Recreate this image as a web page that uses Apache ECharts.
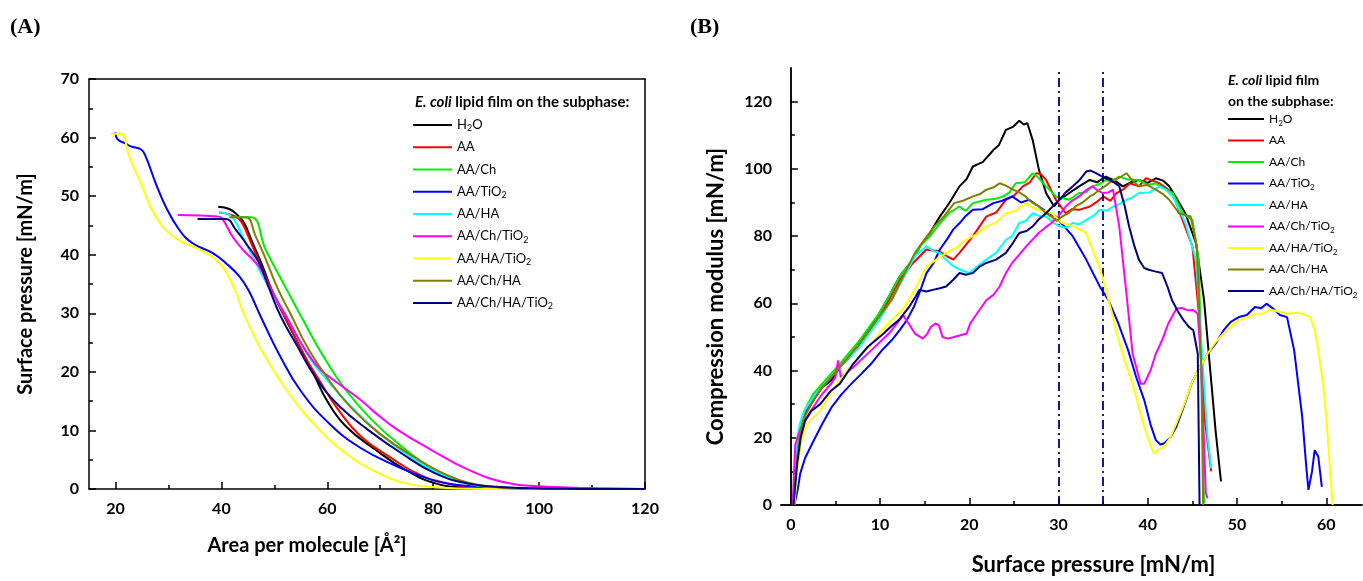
<!DOCTYPE html>
<html>
<head>
<meta charset="utf-8">
<script src="https://cdn.jsdelivr.net/npm/echarts@6/dist/echarts.min.js"></script>
<style>
html,body{margin:0;padding:0;background:#fff;}
#chart{width:1363px;height:581px;}
</style>
</head>
<body>
<div id="chart"></div>
<script>
// ---------- names & colours ----------
const seriesNames = ['H2O','AA','AA/Ch','AA/TiO2','AA/HA','AA/Ch/TiO2','AA/HA/TiO2','AA/Ch/HA','AA/Ch/HA/TiO2'];
const seriesColors = ['#000000','#ff0000','#00ee00','#0000ff','#00ffff','#ff00ff','#ffff00','#808000','#000080'];

// ---------- axis ticks ----------
const aXMajor = [20,40,60,80,100,120];
const aXMinor = [30,50,70,90,110];
const bXMajor = [0,10,20,30,40,50,60];
const bXMinor = [5,15,25,35,45,55];
const bYMajor = [0,20,40,60,80,100,120];
const bYMinor = [10,30,50,70,90,110];
const bVLines = [30,35];

// ---------- panel A: surface pressure vs area ----------
const aH2O = [[39.4,48.2],[41.5,47.8],[43.0,46.8],[44.3,45.4],[45.9,42.0],[47.8,38.0],[49.5,34.0],[51.6,30.0],[55.1,23.8],[57.5,19.5],[60.0,15.0],[63.5,10.7],[69.1,6.7],[74.7,3.3],[80.3,1.0],[86.6,0.2],[95,0.03],[120,0]];
const aAA = [[39.6,47.2],[42.7,46.5],[43.9,45.4],[45.9,41.4],[47.8,37.4],[49.5,34.0],[52.0,29.4],[55.8,22.6],[58.6,18.4],[62.1,13.5],[66.3,9.0],[71.9,5.4],[77.5,2.4],[83.1,0.9],[90,0.2],[100,0.02],[120,0]];
const aAACh = [[41.8,46.4],[45.6,46.4],[48.4,40.8],[52.2,34.3],[55.1,29.4],[59.3,22.6],[63.5,16.9],[68.4,11.8],[74,7.3],[80.3,3.3],[86.6,1.0],[93.6,0.2],[105,0.02],[120,0]];
const aAATiO2 = [[20.0,60.9],[20.4,59.7],[21.9,59.0],[22.9,58.5],[24.8,58.0],[25.7,56.8],[27.6,52.2],[29.5,48.2],[32.0,44.3],[34.5,42.0],[38.3,40.3],[40.8,38.6],[43.4,36.3],[45.2,33.8],[47.4,29.5],[50.9,23.0],[55.1,16.6],[60.7,10.9],[66.3,7.0],[72.6,4.1],[79.6,1.6],[86.6,0.5],[97,0.05],[120,0]];
const aAAHA = [[39.6,47.2],[40.8,47.1],[42.4,46.0],[44,43.1],[45.9,39.7],[47.8,36.3],[49.5,33.6],[52.3,29.4],[56.5,22.6],[60.7,17.8],[64.9,13.7],[69.1,10.1],[74.7,6.1],[80.3,3.0],[86.6,0.9],[93.6,0.2],[105,0.02],[120,0]];
const aAAChTiO2 = [[31.8,46.8],[39.6,46.5],[40.5,45.7],[42.1,43.1],[44.0,40.9],[45.9,39.2],[47.4,37.6],[49.0,34.6],[52.3,29.4],[55.8,23.8],[58.6,20.5],[62.1,18.0],[66.3,15.2],[69.1,13.0],[73.3,10.1],[79.6,6.7],[86.6,3.3],[93.6,1.1],[99.9,0.45],[107.6,0.2],[120,0]];
const aAAHATiO2 = [[19.2,60.6],[21.0,60.7],[22.6,56.8],[24.8,52.2],[27.6,46.5],[31.4,42.8],[35.8,40.9],[39.6,38.6],[42.4,34.3],[44.2,30.0],[47.4,24.0],[52.3,16.9],[57.9,10.7],[63.5,6.1],[69.1,3.0],[74.7,1.0],[80.3,0.3],[90,0.02],[120,0]];
const aAAChHA = [[41.5,46.4],[44.6,46.4],[46.5,43.1],[48.4,39.2],[50.6,34.3],[53,30],[56.5,23.8],[60.7,18.1],[64.9,13.5],[69.8,9.5],[76.1,5.6],[83.1,2.2],[90,0.5],[97,0.05],[120,0]];
const aAAChHATiO2 = [[35.5,46.1],[40.8,46.1],[42.7,44.3],[44.6,42.0],[47.1,38.6],[49.0,34.3],[51.2,29.5],[54.4,24.3],[57.9,18.9],[62.1,14.3],[67.7,10.1],[74,6.1],[80.3,2.7],[86.7,0.9],[93.6,0.3],[105,0.03],[120,0]];

// ---------- panel B: compression modulus vs surface pressure ----------
const bH2O = [[0.3,0],[0.7,12],[1.1,21],[1.6,27],[2.5,31],[3.5,35],[4.5,37],[5.5,41],[6.6,44],[7.7,48],[8.8,52],[9.9,57],[11.0,62],[12.2,68],[13.4,72],[14.5,77],[15.6,81],[16.7,85.8],[17.8,90],[18.9,94.8],[19.7,97],[20.4,100.7],[21.5,102],[22.7,105.6],[23.3,107],[24.1,111.6],[24.9,112.5],[25.6,114.3],[26.1,113.2],[26.5,113.6],[27.1,108.6],[27.8,99.7],[28.6,92.8],[29.5,88.8],[30.1,90.8],[31.2,92.8],[32.3,94.8],[33.5,96.7],[34.3,96],[35.3,97.7],[36.3,96.5],[37.2,94.8],[38.1,96],[39.0,96.7],[40.0,95.8],[40.9,97.2],[41.7,96.5],[42.4,94.8],[43.1,91.8],[44.2,86.8],[45.4,77.9],[46.3,61],[47.0,40],[47.6,22],[48.2,7]];
const bAA = [[0.3,0],[0.7,13],[1.1,22],[1.6,28],[2.5,32],[3.5,35],[5.5,41],[7.7,48],[9.9,56],[11.0,61],[12.2,67],[13.7,72],[15.2,76],[16.7,75.4],[17.5,74],[18.2,73],[18.9,75],[20.4,80],[21.9,85.8],[23.0,87],[24.1,90.8],[25.0,92],[26,94.8],[26.8,96],[27.5,98.7],[28.0,98.5],[28.6,96.7],[29.7,90.8],[30.8,86.8],[31.5,88],[32.3,87.8],[33.5,88.8],[34.2,90],[35,91.8],[35.8,90.5],[36.5,92.8],[37.3,94],[38,95.7],[39.0,94.8],[39.8,97.2],[40.5,96.5],[41.3,95.7],[42.8,92.8],[43.6,86.8],[45,76.9],[45.8,55],[46.4,25],[47.1,10]];
const bAACh = [[0.3,0],[0.6,14],[1.0,23],[1.5,28],[2.5,33],[3.5,36],[5.5,42],[7.7,49],[9.9,57],[11.0,62],[12.2,68],[13.4,72],[14.5,77],[15.6,80],[16.7,83.8],[17.8,87],[18.9,88.8],[19.6,87.5],[20.4,89.8],[21.9,90.8],[22.8,91],[23.8,91.8],[24.5,93],[25.2,95.7],[26.2,96],[27.1,98.7],[27.7,97.5],[28.6,94.8],[29.7,91.8],[31.2,90.8],[32.3,92.8],[33.1,93],[33.8,94.8],[34.6,95.5],[35.3,96.7],[36.1,96.2],[36.8,97.7],[37.8,96.8],[39,96.7],[40.0,95.2],[40.9,95.7],[41.8,94.2],[42.8,92.8],[43.9,86.8],[45,84.8],[45.7,73],[46.1,30],[46.3,0.5]];
const bAATiO2 = [[0.4,0],[0.8,5],[1.06,9.4],[1.6,14],[2.4,18.3],[3.5,24],[4.6,29.2],[5.7,33],[6.8,36.1],[7.9,39],[9.0,42],[10.2,46],[11.3,49],[12.2,52],[13,55],[13.8,59],[14.4,63],[15.2,69],[16.0,72],[16.7,76],[17.5,79],[18.2,82],[18.9,83.8],[19.6,86],[20.4,87.8],[21.5,88],[22.7,89.8],[23.7,90.5],[24.8,91.8],[25.8,90],[26.7,90.8],[27.8,88.8],[28.8,87],[29.7,85.8],[30.6,83],[31.6,79.9],[33.1,73],[34.6,65.1],[35.6,60.9],[36.7,54],[37.8,46],[38.7,38],[39.6,31.2],[40.3,24],[40.9,19.3],[41.4,18],[41.8,18.3],[42.5,20],[43.2,23.3],[44.0,29],[44.9,36.1],[45.8,41],[46.7,45],[47.6,48],[48.5,52],[49.3,54.5],[50.2,55.9],[51.1,56.5],[52,58.9],[52.7,58.5],[53.3,59.9],[54.0,58.5],[54.8,56.5],[55.6,55.9],[56.4,46],[57.3,26.2],[57.8,10],[58,4.5],[58.4,10],[58.7,16.3],[59.1,14.4],[59.5,5.4]];
const bAAHA = [[0.3,0],[0.6,18],[1.0,24],[1.5,28],[2.5,32],[3.5,35],[5.5,41],[7.7,47],[9.9,55],[11.5,62],[12.7,68],[13.9,74],[15.2,77],[16.0,75.5],[16.7,75],[17.4,73],[18.2,71],[19.0,70],[20,69],[20.9,71],[21.9,73],[23.0,75],[24.1,78.9],[24.8,80],[25.6,83.9],[26.3,84.5],[27.1,86.8],[27.8,86],[28.6,85.8],[29.4,84],[30.1,82.9],[30.8,82.5],[31.6,83.9],[32.3,83.5],[33.1,84.8],[33.9,86],[34.6,87.8],[35.4,87.5],[36.1,88.8],[36.8,89.5],[37.6,90.8],[38.3,91.5],[39,92.8],[40.2,93],[41.3,94.8],[42.0,93.8],[42.8,91.8],[43.5,88],[44.2,83.9],[45.4,73],[46.2,40],[46.7,20],[47.1,10.9]];
const bAAChTiO2 = [[0.2,0],[0.5,18],[1.0,22],[1.5,25],[2.5,29],[3.5,33],[4.5,36],[5,38],[5.3,43],[5.6,38],[7,41],[9,46],[11,51],[12.6,56.4],[13.2,54],[13.9,51],[14.8,49.5],[15.3,51],[15.7,53],[16.2,54],[16.6,53.5],[17,50],[17.6,49.5],[18.3,50],[19.0,50.5],[19.7,51],[20.1,54],[21.0,57.5],[21.9,60.9],[22.7,62.5],[23.4,65],[24.1,69],[24.8,72],[25.6,74.5],[26.4,77],[27.1,79],[27.8,81],[28.5,82.5],[29.2,83.9],[30.0,86],[30.8,88.8],[31.5,90.5],[32.3,91.8],[33.0,93.5],[33.8,94.8],[34.4,93.5],[35,92.8],[35.6,93],[36.1,93.8],[36.8,82.9],[37.6,63],[38.3,45],[39.2,36.1],[39.6,36.1],[40.3,40],[40.9,45],[41.6,49],[42.3,54],[43.2,58.4],[43.8,58.6],[44.5,57.9],[45.1,58],[45.6,56.9],[46,41],[46.5,3.5],[46.7,2]];
const bAAHATiO2 = [[0.4,0],[0.8,12],[1.2,19],[1.8,24],[3.3,28],[4.4,33],[5.5,37],[6.6,41],[7.7,44],[8.8,47],[9.9,51],[11.3,55],[12.5,58],[13.9,64],[15.2,71],[16.3,73],[17.4,75],[18.5,76.5],[19.6,78.9],[20.8,80.5],[21.9,82.9],[23.0,84],[24.1,86.8],[25.2,87.5],[26.3,89.8],[27.0,88.5],[27.8,87.8],[28.5,87.5],[29.2,86.8],[29.8,85.5],[30.4,83.9],[31.0,83.5],[31.6,82.9],[32.4,82],[33.1,80.9],[33.8,76],[34.4,72],[34.9,68],[35.5,62],[36.1,56],[36.5,51],[37.4,43],[38.3,36.1],[39.0,29],[39.6,23.3],[40.2,18.5],[40.7,15.3],[41.2,16.5],[41.8,17.3],[42.5,20],[43.2,24.3],[44.0,29.5],[44.9,36.1],[45.8,41],[46.7,45],[47.6,48.5],[48.5,51],[49.3,53],[50.2,55],[51.1,55.8],[52,56.9],[52.9,57],[53.8,58.1],[54.7,57.5],[55.6,56.9],[56.5,57.2],[57.3,56.9],[58.2,55.9],[58.7,52],[59.1,46],[59.6,37],[60,26.2],[60.4,11.4],[60.7,0]];
const bAAChHA = [[0.3,0],[0.7,14],[1.1,22],[1.5,26],[2.5,31],[3.5,35],[5.5,41],[7.7,48],[9.9,56],[11.3,61],[12.6,68],[13.9,75],[15.0,79],[16.1,82.9],[17.2,86],[18.3,89.8],[19.3,90.5],[20.4,91.8],[21.2,92.5],[21.9,93.8],[22.7,94.5],[23.4,95.7],[24.1,95],[24.9,93.8],[25.6,93],[26.3,91.8],[27.0,90],[27.8,88.8],[28.5,87],[29.2,85.8],[29.8,84.5],[30.4,85.8],[31.2,87],[31.9,88.8],[32.7,90],[33.5,91.8],[34.0,92.5],[34.6,93.8],[35.3,95],[36.1,96.7],[36.9,97.5],[37.6,98.7],[38.3,96.5],[39,94.8],[39.9,95.2],[40.9,93.8],[41.7,92.5],[42.4,90.8],[43.5,86.8],[44.8,85.8],[45.5,76.9],[46,40],[46.2,0]];
const bAAChHATiO2 = [[0.3,0],[0.7,12],[1.1,20],[1.6,25],[2.3,28],[3.3,30],[4.5,34],[5.5,36.1],[7,42],[8.6,47],[9.5,49],[10.4,51],[11.2,53],[12.1,55],[13.3,59.1],[14.0,62],[14.4,64],[15.2,63.5],[15.9,64],[16.7,64.5],[17.4,65],[18.2,67],[18.9,69],[19.6,68.5],[20.4,69],[21.2,71],[21.9,72],[23.0,73],[24.1,75],[24.9,78],[25.6,80.9],[26.4,81.5],[27.1,82.9],[27.8,85],[28.6,86.8],[29.4,89],[30.1,90.8],[30.8,93],[31.6,94.8],[32.3,96.5],[33.1,99.2],[33.6,99.5],[34.2,98.7],[35.0,97.5],[35.7,96.7],[36.2,96],[36.8,94.8],[37.4,89],[37.9,82.9],[38.5,77],[39,73],[39.6,70.5],[40.1,70],[40.8,69.5],[41.6,69],[42.2,65],[42.7,61],[43.4,57.5],[44,55],[44.6,53],[45.1,52],[45.6,45],[45.8,0]];

const aData = [aH2O,aAA,aAACh,aAATiO2,aAAHA,aAAChTiO2,aAAHATiO2,aAAChHA,aAAChHATiO2];
const bData = [bH2O,bAA,bAACh,bAATiO2,bAAHA,bAAChTiO2,bAAHATiO2,bAAChHA,bAAChHATiO2];

// ---------- styling ----------
const FONT = 'Lato';
const BLACK = '#000';
const axLine = {show:true, lineStyle:{color:BLACK, width:1.5}};
const tickLbl = {color:BLACK, fontFamily:FONT, fontWeight:'bold', fontSize:16};

function mainX(grid, min, max, majors, name, gap, nameSize, namePad){
  return {gridIndex:grid, type:'value', position:'bottom', min, max,
    axisLine:axLine, splitLine:{show:false},
    axisTick:{show:true, inside:true, length:7, customValues:majors, lineStyle:{color:BLACK, width:1.5}},
    axisLabel:Object.assign({customValues:majors, margin:12}, tickLbl),
    name, nameLocation:'middle', nameGap:gap,
    nameTextStyle:{fontFamily:FONT, fontWeight:'bold', fontSize:nameSize, color:BLACK, padding:namePad}};
}
function minorX(grid, min, max, minors){
  return {gridIndex:grid, type:'value', position:'bottom', min, max,
    axisLine:{show:false}, splitLine:{show:false}, axisLabel:{show:false},
    axisTick:{show:true, inside:true, length:4, customValues:minors, lineStyle:{color:BLACK, width:1.5}}};
}
function frameX(grid, min, max){
  return {gridIndex:grid, type:'value', position:'top', min, max,
    axisLine:axLine, splitLine:{show:false}, axisLabel:{show:false}, axisTick:{show:false}};
}
function frameY(grid, min, max){
  return {gridIndex:grid, type:'value', position:'right', min, max,
    axisLine:axLine, splitLine:{show:false}, axisLabel:{show:false}, axisTick:{show:false}};
}

function legendFmt(n){ return n.replace('H2O','H{sub|2}O').replace('TiO2','TiO{sub|2}'); }
function makeLegend(left, top, iw, gap, fs){
  return {left, top, padding:0, orient:'vertical', icon:'rect', itemWidth:iw, itemHeight:2, itemGap:gap,
    data:seriesNames, formatter:legendFmt, selectedMode:false,
    textStyle:{fontFamily:FONT, fontSize:fs, color:BLACK, lineHeight:16,
      rich:{sub:{fontSize:fs-4, fontFamily:FONT, color:BLACK, verticalAlign:'bottom', lineHeight:16, padding:[5,0,0,0]}}}};
}

const series = [];
seriesNames.forEach((n,i)=>{
  series.push({name:n, type:'line', xAxisIndex:0, yAxisIndex:0, data:aData[i],
    showSymbol:false, smooth:0.45, color:seriesColors[i],
    lineStyle:{width:2, color:seriesColors[i]}, z:2+i});
});
seriesNames.forEach((n,i)=>{
  const s = {name:n, type:'line', xAxisIndex:3, yAxisIndex:2, data:bData[i],
    showSymbol:false, color:seriesColors[i], lineStyle:{width:2, color:seriesColors[i]}, z:2+i};
  if(i===0){
    s.markLine = {silent:true, symbol:'none', label:{show:false},
      lineStyle:{type:[9,4,2,4], color:'#00008b', width:1.8},
      data:bVLines.map(v=>({xAxis:v}))};
  }
  series.push(s);
});

const titleFont = {fontFamily:'Liberation Serif', fontWeight:'bold', fontSize:22, color:BLACK};
const italicBold = {fontFamily:FONT, fontStyle:'italic', fontWeight:'bold', color:BLACK};

const option = {
  animation:false,
  backgroundColor:'#fff',
  title:[
    {text:'(A)', left:10, top:16, padding:0, textStyle:titleFont},
    {text:'(B)', left:690, top:16, padding:0, textStyle:titleFont},
    {text:'{i|E. coli} lipid film on the subphase:', left:415, top:95, padding:0,
      textStyle:{fontFamily:FONT, fontWeight:'bold', fontSize:15, color:BLACK,
        rich:{i:Object.assign({fontSize:15}, italicBold)}}},
    {text:'{i|E. coli} lipid film\non the subphase:', left:1228, top:70, padding:0,
      textStyle:{fontFamily:FONT, fontWeight:'bold', fontSize:14, color:BLACK, lineHeight:21,
        rich:{i:Object.assign({fontSize:14, lineHeight:21}, italicBold)}}}
  ],
  legend:[ makeLegend(413,117,39,6.25,13), makeLegend(1228,111,36,5.5,12) ],
  grid:[
    {left:89, top:79, width:556, height:410},
    {left:781, top:68, width:581, height:437}
  ],
  xAxis:[
    mainX(0,15,120,aXMajor,'Area per molecule [Å²]',47,20,[0,120,0,0]),
    minorX(0,15,120,aXMinor),
    frameX(0,15,120),
    mainX(1,-1.1,64,bXMajor,'Surface pressure [mN/m]',49,22,[0,0,0,44]),
    minorX(1,-1.1,64,bXMinor),
    frameX(1,-1.1,64)
  ],
  yAxis:[
    {gridIndex:0, type:'value', position:'left', min:0, max:70, interval:10,
      axisLine:axLine, splitLine:{show:false},
      axisTick:{show:true, inside:true, length:7, lineStyle:{color:BLACK, width:1.5}},
      minorTick:{show:true, splitNumber:2, length:4, lineStyle:{color:BLACK, width:1.5}},
      axisLabel:Object.assign({margin:10}, tickLbl),
      name:'Surface pressure [mN/m]', nameLocation:'middle', nameGap:53,
      nameTextStyle:{fontFamily:FONT, fontWeight:'bold', fontSize:20, color:BLACK}},
    frameY(0,0,70),
    {gridIndex:1, type:'value', position:'left', min:0, max:130,
      axisLine:axLine, splitLine:{show:false},
      axisTick:{show:true, inside:true, length:7, customValues:bYMajor, lineStyle:{color:BLACK, width:1.5}},
      axisLabel:Object.assign({customValues:bYMajor, margin:9}, tickLbl),
      name:'Compression modulus [mN/m]', nameLocation:'middle', nameGap:54,
      nameTextStyle:{fontFamily:FONT, fontWeight:'bold', fontSize:22, color:BLACK, padding:[0,20,0,0]}},
    {gridIndex:1, type:'value', position:'left', min:0, max:130,
      axisLine:{show:false}, splitLine:{show:false}, axisLabel:{show:false},
      axisTick:{show:true, inside:true, length:4, customValues:bYMinor, lineStyle:{color:BLACK, width:1.5}}},
    frameY(1,0,130)
  ],
  series
};

const chart = echarts.init(document.getElementById('chart'), null, {renderer:'canvas'});
chart.setOption(option);
</script>
</body>
</html>
